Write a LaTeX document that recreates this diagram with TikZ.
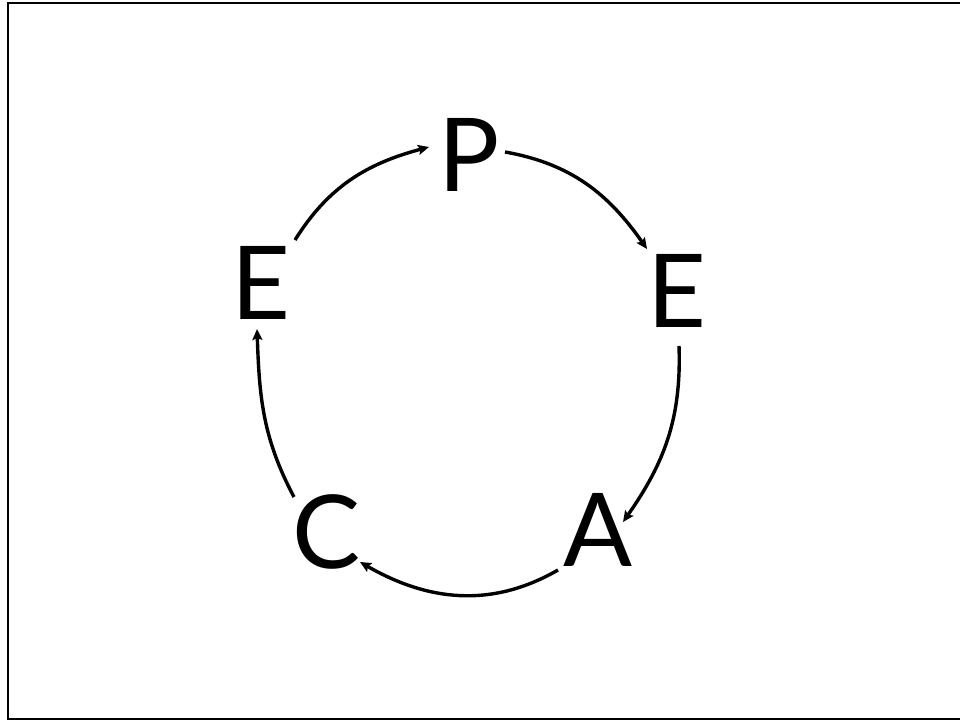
\documentclass[tikz,border=0pt]{standalone}
\usepackage{fontspec}
\setmainfont{Lato}
\usetikzlibrary{calc,arrows.meta}
\tikzset{
  letter/.style={inner sep=0pt, font=\fontsize{102}{102}\selectfont},
  arr/.style={line width=3.4pt, -{Stealth[length=11pt,width=10pt,inset=2pt]}},
  frame/.style={line width=2.5pt}
}
\begin{document}
\begin{tikzpicture}[x=1pt,y=1pt]
\useasboundingbox (0,0) rectangle (960,721);
\clip (0,0) rectangle (960,721);
\draw[frame] (8,2) rectangle (965,718);
\node[letter] (P)  at (469,566) {P};
\node[letter] (ER) at (677,430) {E};
\node[letter] (A)  at (598,191) {A};
\node[letter] (C)  at (327,189) {C};
\node[letter] (EL) at (261,438) {E};
\draw[arr] ($(EL)+(34,43)$) to[out=58,in=195] ($(P)+(-40,8)$);
\draw[arr] ($(P)+(36,3)$) to[out=-10,in=125] ($(ER)+(-30,42)$);
\draw[arr] ($(ER)+(2,-55)$) to[out=-88,in=55] ($(A)+(25,8)$);
\draw[arr] ($(A)+(-40,-40)$) to[out=-150,in=-30] ($(C)+(33,-30)$);
\draw[arr] ($(C)+(-33,35)$) to[out=118,in=-88] ($(EL)+(-4,-46)$);
\end{tikzpicture}
\end{document}
